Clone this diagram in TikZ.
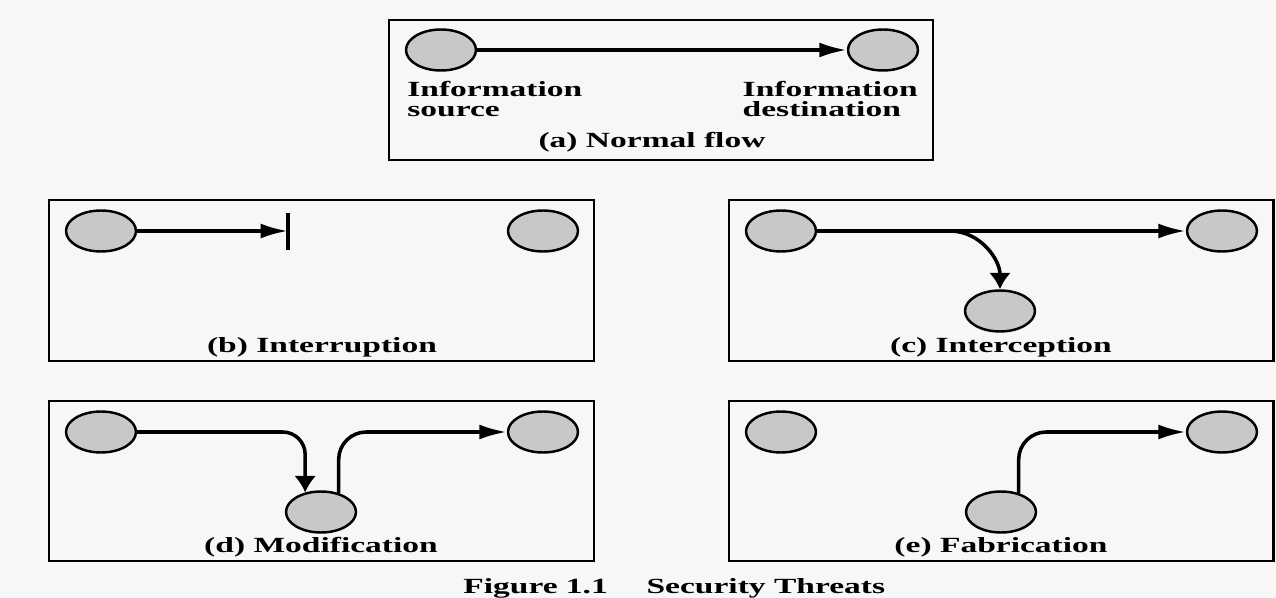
\documentclass[tikz,border=0pt]{standalone}
\usepackage{fontspec}
\setmainfont{Liberation Serif}
\usepackage{graphicx}
\usetikzlibrary{shapes.geometric,arrows.meta}
\definecolor{paper}{HTML}{F7F7F7}
\definecolor{disc}{HTML}{C8C8C8}
\newcommand{\wtxt}[1]{\scalebox{1.55}[1]{#1}}
\tikzset{
  site/.style={ellipse, draw, line width=1.4pt, fill=disc, minimum width=1.4cm, minimum height=0.82cm, inner sep=0pt},
  panel/.style={draw, line width=1.7pt},
  flow/.style={line width=2pt, -{Latex[length=0.55cm,width=0.3cm]}},
  dropflow/.style={line width=2pt, -{Latex[length=0.33cm,width=0.44cm]}},
  lbl/.style={font=\fontsize{12.3}{11.2}\selectfont\bfseries, inner sep=0pt},
}

\begin{document}
\begin{tikzpicture}[x=0.02cm,y=-0.02cm]
        \fill[paper] (0,0) rectangle (1276,598);
        \useasboundingbox (0,0) rectangle (1276,598);
        \draw[panel] (389,20) rectangle (933,160);
        \draw[panel] (49,200) rectangle (594,361);
        \draw[panel] (729,200) rectangle (1273,361);
        \draw[panel] (49,401) rectangle (594,561);
        \draw[panel] (729,401) rectangle (1273,561);

        \node[site] (a1) at (441,50) {};
        \node[site] (a2) at (883,50) {};
        \draw[flow] (a1) -- (a2);
        \node[lbl, anchor=north west, align=left] (a1t) at (407,81) {\wtxt{Information}\\\wtxt{source}};
        \node[lbl, anchor=north east, align=left] (a2t) at (918,81) {\wtxt{Information}\\\wtxt{destination}};
        \node[lbl, anchor=base] (acap) at (652,148) {\wtxt{(a) Normal flow}};

        \node[site] (b1) at (101,231) {};
        \node[site] (b2) at (543,231) {};
        \coordinate (bcut) at (288,231);
        \draw[flow] (b1) -- (bcut);
        \draw[line width=2.6pt] (bcut) ++(0,-18) -- ++(0,37);
        \node[lbl, anchor=base] (bcap) at (322,352) {\wtxt{(b) Interruption}};

        \node[site] (c1) at (781,231) {};
        \node[site] (c2) at (1222,231) {};
        \node[site] (c3) at (1000,311) {};
        \coordinate (csplit) at (950,231);
        \draw[flow] (c1) -- (c2);
        \draw[dropflow] (csplit) to[out=0,in=90] (c3.north);
        \node[lbl, anchor=base] (ccap) at (1001,352) {\wtxt{(c) Interception}};

        \node[site] (d1) at (101,432) {};
        \node[site] (d2) at (543,432) {};
        \node[site] (d3) at (321,512) {};
        \draw[dropflow, rounded corners=0.45cm] (d1) -| (d3.129);
        \draw[flow, rounded corners=0.55cm] (d3.47) |- (d2);
        \node[lbl, anchor=base] (dcap) at (321,552) {\wtxt{(d) Modification}};

        \node[site] (e1) at (781,432) {};
        \node[site] (e2) at (1222,432) {};
        \node[site] (e3) at (1001,512) {};
        \draw[flow, rounded corners=0.55cm] (e3.47) |- (e2);
        \node[lbl, anchor=base] (ecap) at (1001,552) {\wtxt{(e) Fabrication}};

        \node[lbl, anchor=base west] (fig) at (463,593) {\wtxt{Figure 1.1\hspace{0.5cm}Security Threats}};
\end{tikzpicture}
\end{document}
